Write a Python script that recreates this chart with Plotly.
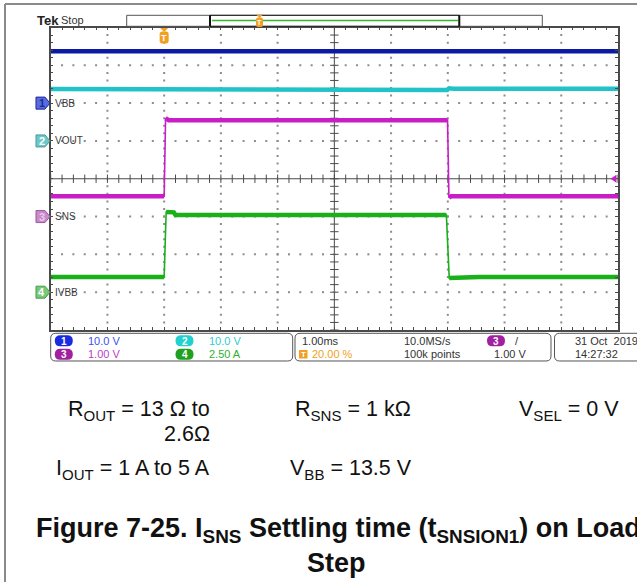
import plotly.graph_objects as go
import numpy as np

W, H = 637, 582

# ---------------- data ----------------
# time in ms, trigger at t = 0 (1.00 ms/div, trigger position 20 %)
ch1_t = [-2.0, 8.0]
ch1_v = [13.7, 13.7]                                     # VBB  [V]
ch2_t = [-2.0, 0.0, 0.03, 4.99, 5.02, 5.10, 8.0]
ch2_v = [13.75, 13.75, 13.5, 13.5, 13.9, 13.8, 13.8]     # VOUT [V]
ch3_t = [-2.0, 0.0, 0.025, 0.08, 4.995, 5.02, 5.06, 8.0]
ch3_v = [0.54, 0.54, 2.6, 2.55, 2.55, 0.5, 0.54, 0.54]   # SNS  [V]
ch4_t = [-2.0, 0.0, 0.035, 0.17, 0.2, 4.975, 5.025, 5.5, 5.55, 8.0]
ch4_v = [1.0, 1.0, 5.3, 5.28, 5.1, 5.1, 0.93, 0.95, 1.0, 1.0]  # IVBB [A]

ch_names = ["VBB", "VOUT", "SNS", "IVBB"]
ch_scale = [10.0, 10.0, 1.0, 2.5]          # units / div
ch_offset = [2, 1, -1, -3]                 # marker position [div]
ch_scale_labels = ["10.0 V", "10.0 V", "1.00 V", "2.50 A"]
ch_colors = ["#0B1AA0", "#22C3C8", "#C81EC8", "#19B019"]
ch_marker_fill = ["#5A6BE0", "#6CC8C8", "#C88AC8", "#78C878"]
ch_marker_line = ["#1A2A9A", "#4A9A9A", "#9A5A9A", "#4A9A4A"]
ch_marker_text = ["#1A2A9A", "#FFFFFF", "#E8C8E8", "#FFFFFF"]
ch_oval = ["#1A2AE0", "#22D0D0", "#A020A0", "#20A020"]
ch_label_col = ["#4050F0", "#30CCD0", "#C040C0", "#30B030"]

time_div = 1.0       # ms/div
x_range = [-2.0, 8.0]
y_range = [-4.0, 4.0]

# ---------------- layout geometry (pixels) ----------------
GX0, GX1, GY0, GY1 = 50.7, 618.0, 27.5, 330.0
FONT = "Liberation Sans, Arial, sans-serif"


def px(x):
    return x / W


def py(y):
    return 1 - y / H


def tx(t):  # ms -> pixel x
    return GX0 + (t - x_range[0]) / (x_range[1] - x_range[0]) * (GX1 - GX0)


def ty(d):  # div -> pixel y
    return GY0 + (y_range[1] - d) / (y_range[1] - y_range[0]) * (GY1 - GY0)


def P(x, y):
    return f"{px(x):.5f},{py(y):.5f}"


def poly(points):
    s = "M " + " L ".join(P(x, y) for x, y in points) + " Z"
    return s


def rrect(x0, y0, x1, y1, r):
    return (f"M {P(x0 + r, y0)} L {P(x1 - r, y0)} Q {P(x1, y0)} {P(x1, y0 + r)} "
            f"L {P(x1, y1 - r)} Q {P(x1, y1)} {P(x1 - r, y1)} L {P(x0 + r, y1)} "
            f"Q {P(x0, y1)} {P(x0, y1 - r)} L {P(x0, y0 + r)} Q {P(x0, y0)} {P(x0 + r, y0)} Z")


shapes = []
annots = []


def text(x, y, s, size=11, color="#333", anchor="left", bold=False, family=FONT):
    annots.append(dict(x=px(x), y=py(y), xref="paper", yref="paper", text=s,
                       showarrow=False, xanchor=anchor, yanchor="middle",
                       font=dict(size=size, color=color, family=family,
                                 weight="bold" if bold else "normal")))


fig = go.Figure()

# ---- graticule dots ----
minor_x = np.round(np.arange(x_range[0], x_range[1] + 1e-9, time_div / 5), 4)
minor_y = np.round(np.arange(y_range[0], y_range[1] + 1e-9, 0.2), 4)
major_x = [v for v in np.arange(-1, 8, 1.0) if v != 3]
major_y = [v for v in range(-3, 4) if v != 0]
gx, gy = [], []
for mx in major_x:
    for my in minor_y[1:-1]:
        gx.append(mx); gy.append(my)
for my in major_y:
    for mx in minor_x[1:-1]:
        gx.append(mx); gy.append(my)
fig.add_trace(go.Scatter(x=gx, y=gy, mode="markers", hoverinfo="skip",
                         marker=dict(symbol="square", size=2, color="#8C8C8C", line=dict(width=0))))

# ---- centre axes with ticks ----
shapes.append(dict(type="line", xref="x", yref="y", x0=x_range[0], x1=x_range[1], y0=0, y1=0,
                   line=dict(color="#4A4A4A", width=1), layer="below"))
shapes.append(dict(type="line", xref="x", yref="y", x0=3, x1=3, y0=y_range[0], y1=y_range[1],
                   line=dict(color="#4A4A4A", width=1), layer="below"))
fig.add_trace(go.Scatter(x=minor_x, y=[0] * len(minor_x), mode="markers", hoverinfo="skip",
                         marker=dict(symbol="line-ns", size=6, line=dict(width=1, color="#4A4A4A"))))
fig.add_trace(go.Scatter(x=[3] * len(minor_y), y=minor_y, mode="markers", hoverinfo="skip",
                         marker=dict(symbol="line-ew", size=6, line=dict(width=1, color="#4A4A4A"))))


# ---- waveforms ----
def band(t, d):
    bx, by = [t[0]], [d[0]]
    for i in range(1, len(t)):
        slope = abs(d[i] - d[i - 1]) / max(t[i] - t[i - 1], 1e-9)
        if slope > 15:
            bx.append(None); by.append(None)
        bx.append(t[i]); by.append(d[i])
    return bx, by


series = [(ch1_t, ch1_v), (ch2_t, ch2_v), (ch3_t, ch3_v), (ch4_t, ch4_v)]
for i in [3, 2, 1, 0]:
    t, v = series[i]
    d = [val / ch_scale[i] + ch_offset[i] for val in v]
    fig.add_trace(go.Scatter(x=t, y=d, mode="lines", hoverinfo="skip",
                             line=dict(color=ch_colors[i], width=1.6)))
    bx, by = band(t, d)
    fig.add_trace(go.Scatter(x=bx, y=by, mode="lines", hoverinfo="skip", connectgaps=False,
                             line=dict(color=ch_colors[i], width=4.5)))

# ---- channel markers + labels ----
for i in range(4):
    cy = ty(ch_offset[i])
    shapes.append(dict(type="path", xref="paper", yref="paper",
                       path=poly([(36, cy - 6), (45, cy - 6), (50, cy), (45, cy + 6), (36, cy + 6)]),
                       fillcolor=ch_marker_fill[i], line=dict(color=ch_marker_line[i], width=1)))
    text(41.5, cy, str(i + 1), size=11, color=ch_marker_text[i], anchor="center", bold=True)
    text(53, cy, ch_names[i], size=10, color="#3A3A3A")

# ---- trigger marker (top) ----
cx = tx(0)
shapes.append(dict(type="path", xref="paper", yref="paper",
                   path=poly([(cx - 4, 28), (cx + 4, 28), (cx, 32)]),
                   fillcolor="#F2A023", line=dict(width=0)))
shapes.append(dict(type="path", xref="paper", yref="paper",
                   path=rrect(cx - 4.5, 31.5, cx + 4.5, 43.5, 2.5),
                   fillcolor="#F2A023", line=dict(width=0)))
text(cx, 37.6, "T", size=9, color="white", anchor="center", bold=True)

# ---- trigger level arrow (right) ----
ly = ty(1.0 / ch_scale[2] + ch_offset[2])
shapes.append(dict(type="path", xref="paper", yref="paper",
                   path=poly([(610.5, ly), (616.5, ly - 4), (616.5, ly + 4)]),
                   fillcolor="#C81EC8", line=dict(width=0)))

# ---- page border lines ----
shapes.append(dict(type="line", xref="paper", yref="paper", x0=px(5), x1=px(5), y0=py(4), y1=py(582),
                   line=dict(color="#8A8A8A", width=2)))
shapes.append(dict(type="line", xref="paper", yref="paper", x0=px(5), x1=px(637), y0=py(4), y1=py(4),
                   line=dict(color="#8A8A8A", width=2)))

# ---- top bar ----
text(35, 20.5, "Tek", size=13, color="#222", bold=True)
text(59, 20.5, "Stop", size=11, color="#333")
shapes.append(dict(type="rect", xref="paper", yref="paper", x0=px(126.7), x1=px(542.3),
                   y0=py(15.3), y1=py(26.3), line=dict(color="#555", width=1)))
shapes.append(dict(type="rect", xref="paper", yref="paper", x0=px(210), x1=px(459.3),
                   y0=py(15.3), y1=py(26.3), line=dict(color="#222", width=1)))
for xx in (210, 459.3):
    shapes.append(dict(type="line", xref="paper", yref="paper", x0=px(xx), x1=px(xx),
                       y0=py(15.3), y1=py(26.3), line=dict(color="#111", width=2)))
shapes.append(dict(type="line", xref="paper", yref="paper", x0=px(212), x1=px(458),
                   y0=py(20.5), y1=py(20.5), line=dict(color="#33B833", width=1.5)))
bx_ = 259.5
shapes.append(dict(type="path", xref="paper", yref="paper",
                   path=poly([(bx_ - 3, 15), (bx_ + 3, 15), (bx_, 18)]),
                   fillcolor="#F2A023", line=dict(width=0)))
shapes.append(dict(type="path", xref="paper", yref="paper",
                   path=rrect(bx_ - 3.5, 17.5, bx_ + 3.5, 27, 2),
                   fillcolor="#F2A023", line=dict(width=0)))
text(bx_, 22.3, "T", size=7, color="white", anchor="center", bold=True)

# ---- bottom info boxes ----
R1, R2 = 340.8, 354.3
shapes.append(dict(type="path", xref="paper", yref="paper", path=rrect(50.7, 333.3, 292.7, 361, 5),
                   line=dict(color="#555", width=1)))
shapes.append(dict(type="path", xref="paper", yref="paper", path=rrect(295, 333.3, 551, 361, 5),
                   line=dict(color="#555", width=1)))
shapes.append(dict(type="path", xref="paper", yref="paper", path=rrect(554.5, 333.3, 660, 361, 5),
                   line=dict(color="#555", width=1)))
oval_pos = [(63.8, R1), (184.5, R1), (63.8, R2), (184.5, R2)]
for i in range(4):
    ox, oy = oval_pos[i]
    shapes.append(dict(type="path", xref="paper", yref="paper",
                       path=rrect(ox - 9, oy - 5.5, ox + 9, oy + 5.5, 5.5),
                       fillcolor=ch_oval[i], line=dict(width=0)))
    text(ox, oy + 0.3, str(i + 1), size=10, color="white", anchor="center", bold=True)
    text(ox + 22.5, oy, ch_scale_labels[i], size=11, color=ch_label_col[i])

text(300, R1, "1.00ms", size=11, color="#333")
shapes.append(dict(type="rect", xref="paper", yref="paper", x0=px(299), x1=px(307.5),
                   y0=py(350), y1=py(358.5), fillcolor="#F2A023", line=dict(width=0)))
text(303.3, R2 + 0.2, "T", size=8, color="white", anchor="center", bold=True)
text(310, R2, "20.00 %", size=11, color="#F2A023")
text(401.7, R1, "10.0MS/s", size=11, color="#333")
text(401.7, R2, "100k points", size=11, color="#333")
shapes.append(dict(type="path", xref="paper", yref="paper",
                   path=rrect(487, R1 - 5.5, 505, R1 + 5.5, 5.5),
                   fillcolor=ch_oval[2], line=dict(width=0)))
text(496, R1 + 0.3, "3", size=10, color="white", anchor="center", bold=True)
text(516.5, R1, "/", size=11, color="#333", anchor="center")
text(491.7, R2, "1.00 V", size=11, color="#333")
text(573.3, R1, "31 Oct  2019", size=11, color="#333")
text(573.3, R2, "14:27:32", size=11, color="#333")

# ---- conditions & caption ----
FS = 21.5
text(212, 410, "R<sub>OUT</sub> = 13 Ω to", size=FS, color="#111", anchor="right")
text(212, 434, "2.6Ω", size=FS, color="#111", anchor="right")
text(293, 410, "R<sub>SNS</sub> = 1 kΩ", size=FS, color="#111")
text(517, 410, "V<sub>SEL</sub> = 0 V", size=FS, color="#111")
text(212, 469, "I<sub>OUT</sub> = 1 A to 5 A", size=FS, color="#111", anchor="right")
text(288, 469, "V<sub>BB</sub> = 13.5 V", size=FS, color="#111")
text(34, 530, "Figure 7-25. I<sub>SNS</sub> Settling time (t<sub>SNSION1</sub>) on Load",
     size=27, color="#111", bold=True)
text(336, 563, "Step", size=27, color="#111", anchor="center", bold=True)

ax_common = dict(showgrid=False, zeroline=False, showticklabels=False, ticks="inside", ticklen=3,
                 tickcolor="#4A4A4A", tickwidth=1, showline=True, linecolor="#4A4A4A", linewidth=1.5,
                 mirror="ticks", fixedrange=True)
fig.update_layout(
    width=W, height=H, margin=dict(l=0, r=0, t=0, b=0),
    paper_bgcolor="white", plot_bgcolor="white", showlegend=False,
    xaxis=dict(range=x_range, domain=[GX0 / W, GX1 / W], tick0=x_range[0], dtick=time_div / 5, **ax_common),
    yaxis=dict(range=y_range, domain=[1 - GY1 / H, 1 - GY0 / H], tick0=y_range[0], dtick=0.2, **ax_common),
    shapes=shapes, annotations=annots,
)

fig.write_html("out.html")
